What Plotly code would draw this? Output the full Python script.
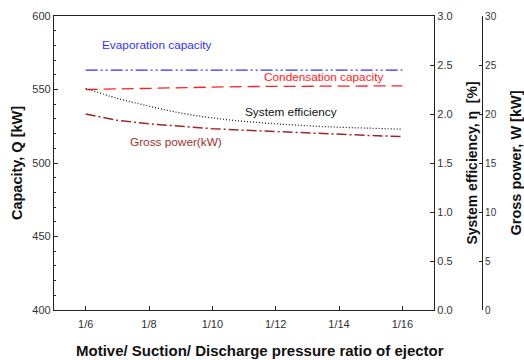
import plotly.graph_objects as go

# Data
ratio_den = [6, 7, 8, 9, 10, 11, 12, 13, 14, 15, 16]
evaporation_capacity = [563.2] * 11
condensation_capacity = [550.0, 550.5, 551.0, 551.3, 551.6, 552.0, 552.2, 552.3, 552.4, 552.4, 552.4]
system_efficiency = [2.26, 2.16, 2.08, 2.01, 1.96, 1.925, 1.90, 1.88, 1.865, 1.855, 1.845]
gross_power = [20.0, 19.35, 19.0, 18.75, 18.5, 18.35, 18.2, 18.05, 17.9, 17.8, 17.7]
tick_vals = [6, 8, 10, 12, 14, 16]
tick_text = ["1/6", "1/8", "1/10", "1/12", "1/14", "1/16"]

FONT = "Liberation Sans, Arial, sans-serif"
fig = go.Figure()

fig.add_trace(go.Scatter(x=ratio_den, y=evaporation_capacity, mode="lines",
                         line=dict(color="#3030ff", width=1.3, dash="12px,3px,2px,3px,2px,3px"),
                         yaxis="y", showlegend=False))
fig.add_trace(go.Scatter(x=ratio_den, y=condensation_capacity, mode="lines",
                         line=dict(color="#ff2020", width=1.3, dash="12px,6px"),
                         yaxis="y", showlegend=False))
fig.add_trace(go.Scatter(x=ratio_den, y=system_efficiency, mode="lines", line_shape="spline",
                         line=dict(color="#111111", width=1.2, dash="1px,2px"),
                         yaxis="y2", showlegend=False))
fig.add_trace(go.Scatter(x=ratio_den, y=gross_power, mode="lines",
                         line=dict(color="#9a2a2a", width=1.5, dash="10px,3px,2px,3px"),
                         yaxis="y3", showlegend=False))

L, R, T, B = 54, 30, 16, 50
pw = 524 - L - R
ph = 360 - T - B
dom_end = (434 - L) / pw
pos3 = (482 - L) / pw

fig.update_layout(
    width=524, height=360,
    margin=dict(l=L, r=R, t=T, b=B, autoexpand=False),
    paper_bgcolor="white", plot_bgcolor="white",
    font=dict(family=FONT, size=11, color="#222"),
    xaxis=dict(domain=[0, dom_end], range=[5, 17], tickvals=tick_vals, ticktext=tick_text,
               ticks="inside", ticklen=4, tickcolor="#222", showgrid=False, zeroline=False,
               showline=True, linecolor="#222", linewidth=1.2, mirror=True, automargin=False,
               tickfont=dict(size=11, color="#333"), ticklabelstandoff=4),
    yaxis=dict(range=[400, 600], tickvals=[400, 450, 500, 550, 600], ticks="inside", ticklen=4,
               tickcolor="#222", showgrid=False, zeroline=False, showline=True, automargin=False,
               linecolor="#222", linewidth=1.2,
               minor=dict(ticks="inside", dtick=10, ticklen=2, tickcolor="#222"),
               tickfont=dict(size=11, color="#333"),
               title=dict(text="<b>Capacity, Q [kW]</b>", font=dict(size=14.5, color="#111"), standoff=6)),
    yaxis2=dict(range=[0, 3.0], tickvals=[0, 0.5, 1.0, 1.5, 2.0, 2.5, 3.0],
                ticktext=["0.0", "0.5", "1.0", "1.5", "2.0", "2.5", "3.0"],
                overlaying="y", side="right", anchor="x", ticks="inside", ticklen=4, automargin=False,
                tickcolor="#222", showgrid=False, zeroline=False, showline=True,
                linecolor="#222", linewidth=1.2, tickfont=dict(size=11, color="#333"),
                title=dict(text="<b>System efficiency, η  [%]</b>", font=dict(size=14, color="#111"), standoff=15)),
    yaxis3=dict(range=[0, 30], tickvals=[0, 5, 10, 15, 20, 25, 30],
                overlaying="y", side="right", anchor="free", position=pos3, automargin=False,
                ticks="inside", ticklen=3, tickcolor="#222", showgrid=False, zeroline=False,
                showline=True, linecolor="#222", linewidth=1.2, tickfont=dict(size=10, color="#333"),
                title=dict(text="<b>Gross power, W [kW]</b>", font=dict(size=14.5, color="#111"), standoff=15)),
    annotations=[
        dict(x=(260 - L) / pw, y=(310 - 350) / ph, xref="paper", yref="paper",
             text="<b>Motive/ Suction/ Discharge pressure ratio of ejector</b>", showarrow=False,
             xanchor="center", yanchor="middle", font=dict(size=15, color="#111")),
        dict(x=6.45, y=580, xref="x", yref="y", text="Evaporation capacity", showarrow=False,
             xanchor="left", font=dict(size=11.8, color="#3030ff")),
        dict(x=11.57, y=558.6, xref="x", yref="y", text="Condensation capacity", showarrow=False,
             xanchor="left", font=dict(size=11.8, color="#ff2020")),
        dict(x=10.97, y=534.6, xref="x", yref="y", text="System efficiency", showarrow=False,
             xanchor="left", font=dict(size=11.8, color="#111")),
        dict(x=7.34, y=514.4, xref="x", yref="y", text="Gross power(kW)", showarrow=False,
             xanchor="left", font=dict(size=11.8, color="#a03030")),
    ],
)

fig.write_html("out.html", config={"displayModeBar": False},
               post_script="document.body.style.margin='0';document.body.style.padding='0';")
